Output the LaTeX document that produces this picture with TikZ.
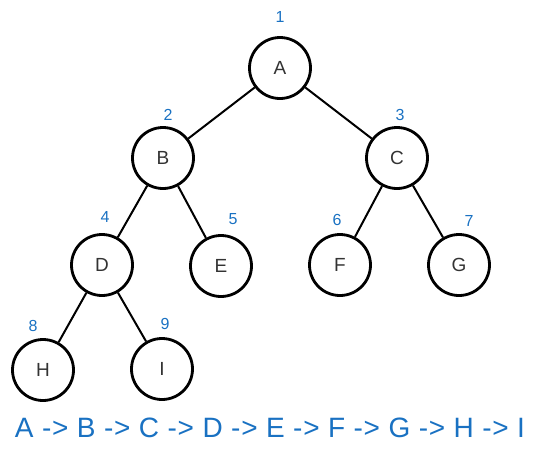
\documentclass[tikz,border=0pt]{standalone}
\usepackage{fontspec}
\setmainfont{Liberation Sans}
\definecolor{numblue}{HTML}{1971C2}
\definecolor{txtgray}{HTML}{333333}
\begin{document}
\begin{tikzpicture}[x=1pt,y=-1pt,
  treenode/.style={circle,draw=black,line width=2.8pt,minimum size=61pt,inner sep=0pt,font=\fontsize{19}{19}\selectfont,text=txtgray},
  edge/.style={draw=black,line width=2pt},
  num/.style={text=numblue,font=\fontsize{16}{16}\selectfont,inner sep=0pt}]
\useasboundingbox (0,0) rectangle (542,451);
\node[treenode] (A) at (280,68) {A};
\node[treenode] (B) at (163,158) {B};
\node[treenode] (C) at (397,158) {C};
\node[treenode] (D) at (102,265) {D};
\node[treenode] (E) at (221,266) {E};
\node[treenode] (F) at (340,265) {F};
\node[treenode] (G) at (459,265) {G};
\node[treenode] (H) at (43,370) {H};
\node[treenode] (I) at (162,369) {I};
\draw[edge] (A) -- (B);
\draw[edge] (A) -- (C);
\draw[edge] (B) -- (D);
\draw[edge] (B) -- (E);
\draw[edge] (C) -- (F);
\draw[edge] (C) -- (G);
\draw[edge] (D) -- (H);
\draw[edge] (D) -- (I);
\node[num] (n1) at (280,17) {1};
\node[num] (n2) at (168,115) {2};
\node[num] (n3) at (400,115) {3};
\node[num] (n4) at (105,217) {4};
\node[num] (n5) at (233,219) {5};
\node[num] (n6) at (337,220) {6};
\node[num] (n7) at (469,221) {7};
\node[num] (n8) at (33,326) {8};
\node[num] (n9) at (165,324) {9};
\node[text=numblue,font=\fontsize{28}{28}\selectfont\addfontfeature{LetterSpace=2.5},inner sep=0pt] (seq) at (270,428) {A -> B -> C -> D -> E -> F -> G -> H -> I};
\end{tikzpicture}
\end{document}
